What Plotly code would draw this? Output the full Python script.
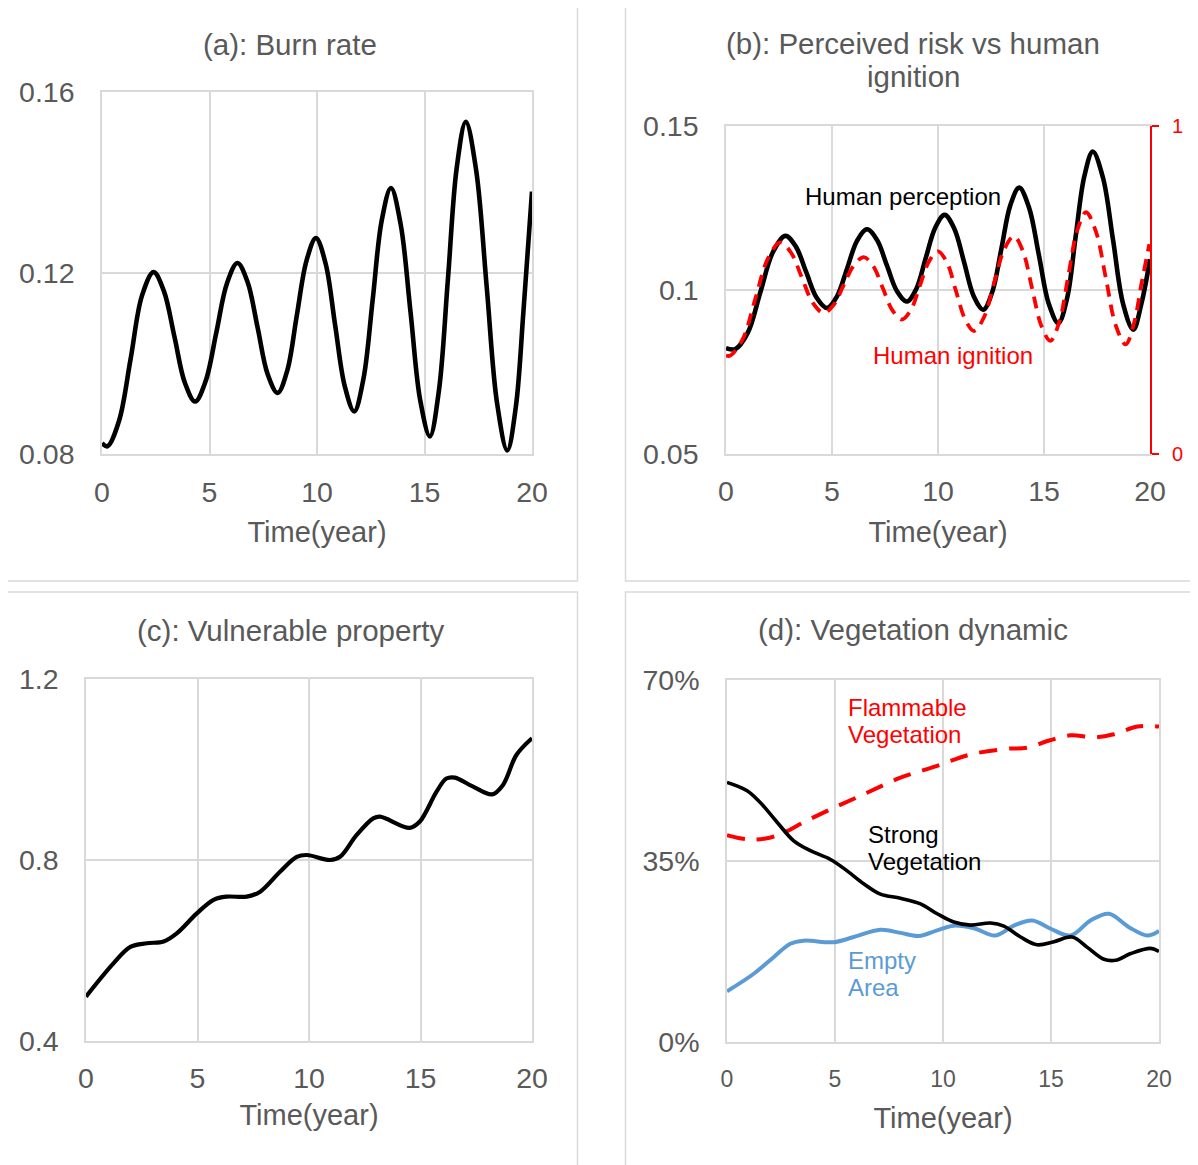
import plotly.graph_objects as go

# ---------------- data ----------------
# (a) Burn rate
a_t = [0, 0.25, 0.79, 1.33, 1.86, 2.4, 2.88, 3.37, 3.85, 4.33, 4.82, 5.32, 5.81, 6.3, 6.77, 7.24,
       7.70, 8.17, 8.62, 9.06, 9.51, 9.95, 10.4, 10.84, 11.29, 11.73, 12.16, 12.59, 13.01, 13.44,
       13.89, 14.35, 14.80, 15.25, 15.67, 16.09, 16.5, 16.92, 17.4, 17.89, 18.37, 18.85, 19.25,
       19.6, 20]
a_burn = [0.0824, 0.0817, 0.0873, 0.101, 0.115, 0.1202, 0.1160, 0.1059, 0.0958, 0.0916, 0.0961,
          0.1069, 0.1177, 0.1222, 0.1180, 0.1079, 0.0977, 0.0935, 0.0985, 0.1106, 0.1227, 0.1277,
          0.1221, 0.1086, 0.0950, 0.0894, 0.0966, 0.1141, 0.1316, 0.1388, 0.1308, 0.1114, 0.0919,
          0.0839, 0.0940, 0.1187, 0.1433, 0.1534, 0.1428, 0.1171, 0.0914, 0.0808, 0.0905, 0.1114,
          0.138]

# (b) Perceived risk (left axis) vs human ignition (right axis)
b_t_perc = [0, 0.44, 1.03, 1.62, 2.21, 2.80, 3.29, 3.78, 4.27, 4.76, 5.23, 5.71, 6.18, 6.65, 7.12,
            7.59, 8.06, 8.53, 8.98, 9.42, 9.87, 10.31, 10.77, 11.23, 11.68, 12.14, 12.56, 12.99,
            13.41, 13.83, 14.29, 14.76, 15.22, 15.68, 16.09, 16.49, 16.9, 17.30, 17.78, 18.26,
            18.73, 19.21, 19.6, 20]
b_perception = [0.0823, 0.082, 0.0870, 0.0993, 0.1115, 0.1165, 0.1133, 0.1055, 0.0977, 0.0945,
                0.0980, 0.1065, 0.1150, 0.1185, 0.1153, 0.1075, 0.0997, 0.0965, 0.1004, 0.1097,
                0.1190, 0.1229, 0.1187, 0.1085, 0.0982, 0.094, 0.0994, 0.1126, 0.1258, 0.1312,
                0.1252, 0.1106, 0.0959, 0.0899, 0.0975, 0.1161, 0.1346, 0.1422, 0.1343, 0.1151,
                0.0958, 0.0879, 0.096, 0.1094]
b_t_ign = [0, 0.2, 0.79, 1.38, 1.97, 2.56, 3.07, 3.58, 4.09, 4.6, 5.08, 5.55, 6.03, 6.5, 6.95, 7.4,
           7.85, 8.3, 8.73, 9.15, 9.58, 10.0, 10.43, 10.85, 11.28, 11.7, 12.17, 12.64, 13.11, 13.58,
           14.01, 14.44, 14.87, 15.3, 15.72, 16.14, 16.56, 16.98, 17.45, 17.92, 18.38, 18.85,
           19.25, 19.6, 19.97]
b_ignition = [0.30, 0.30, 0.350, 0.4725, 0.595, 0.645, 0.6136, 0.5375, 0.4614, 0.43, 0.4548, 0.515,
              0.5752, 0.600, 0.5723, 0.505, 0.4377, 0.41, 0.4404, 0.514, 0.5876, 0.618, 0.5825,
              0.4965, 0.4105, 0.375, 0.4172, 0.5195, 0.6218, 0.664, 0.6174, 0.5045, 0.3916, 0.345,
              0.4022, 0.541, 0.6798, 0.737, 0.678, 0.5355, 0.393, 0.334, 0.40, 0.52, 0.64]

# (c) Vulnerable property
c_t = [0, 1.24, 1.99, 2.73, 3.48, 4.07, 4.97, 5.72, 6.31, 7.21, 7.81, 8.70, 9.45, 9.9, 10.94,
       11.39, 12.13, 12.88, 13.18, 14.52, 14.97, 15.72, 16.16, 16.54, 17.36, 18.21, 18.7, 19.3, 20]
c_property = [0.498, 0.572, 0.608, 0.616, 0.620, 0.638, 0.682, 0.712, 0.719, 0.719, 0.730, 0.774,
              0.807, 0.811, 0.800, 0.807, 0.855, 0.892, 0.896, 0.871, 0.885, 0.951, 0.980, 0.982,
              0.962, 0.945, 0.966, 1.032, 1.069]

# (d) Vegetation dynamic
d_t_strong = [0, 0.93, 1.54, 2.32, 3.09, 3.86, 4.79, 5.56, 6.33, 7.10, 8.03, 8.96, 9.73, 10.50,
              11.27, 12.20, 12.82, 13.59, 14.36, 15.14, 15.98, 16.68, 17.45, 17.99, 18.69, 19.61, 20]
d_strong = [0.502, 0.486, 0.463, 0.425, 0.389, 0.370, 0.353, 0.331, 0.306, 0.286, 0.278, 0.267,
            0.248, 0.232, 0.226, 0.230, 0.224, 0.203, 0.188, 0.194, 0.203, 0.183, 0.160, 0.158,
            0.171, 0.181, 0.175]
d_t_empty = [0, 1.24, 2.16, 2.93, 3.55, 4.94, 5.87, 7.10, 8.03, 8.88, 9.73, 10.50, 11.43, 12.43,
             13.28, 14.13, 14.98, 15.91, 16.83, 17.68, 18.61, 19.46, 20]
d_empty = [0.098, 0.132, 0.164, 0.190, 0.196, 0.193, 0.203, 0.217, 0.211, 0.205, 0.216, 0.225,
           0.220, 0.206, 0.225, 0.235, 0.219, 0.206, 0.235, 0.248, 0.222, 0.206, 0.215]
d_t_flam = [0, 0.93, 1.85, 2.63, 3.55, 4.79, 6.33, 8.03, 9.73, 11.27, 12.97, 13.9, 14.83, 15.9,
            16.99, 17.91, 19.0, 20]
d_flammable = [0.400, 0.392, 0.394, 0.405, 0.425, 0.450, 0.479, 0.511, 0.534, 0.556, 0.567, 0.569,
               0.582, 0.593, 0.589, 0.595, 0.610, 0.610]

x_ticks = [0, 5, 10, 15, 20]

# ---------------- layout helpers ----------------
# the page body adds an 8px margin, so the figure is drawn 8px in from the window corner
OFF = 8
W, H = 1198 - OFF, 1165 - OFF
FONT = "Liberation Sans, Arial, sans-serif"
GREY_TXT = "#595959"
GRID = "#d9d9d9"
RED = "#FF0000"
BLUE = "#5B9BD5"


def X(px):
    return (px - OFF) / W


def Y(py):
    return 1 - (py - OFF) / H


def dx(x0, x1):
    return [X(x0), X(x1)]


def dy(ytop, ybot):
    return [Y(ybot), Y(ytop)]


fig = go.Figure()

fig.add_trace(go.Scatter(x=a_t, y=a_burn, mode="lines", line=dict(color="black", width=4.6, shape="spline"),
                         xaxis="x", yaxis="y", showlegend=False))
fig.add_trace(go.Scatter(x=b_t_ign, y=b_ignition, mode="lines",
                         line=dict(color=RED, width=3.8, shape="spline", dash="12px,8px"),
                         xaxis="x2", yaxis="y5", showlegend=False))
fig.add_trace(go.Scatter(x=b_t_perc, y=b_perception, mode="lines",
                         line=dict(color="black", width=4.6, shape="spline"),
                         xaxis="x2", yaxis="y2", showlegend=False))
fig.add_trace(go.Scatter(x=c_t, y=c_property, mode="lines", line=dict(color="black", width=4.2, shape="spline"),
                         xaxis="x3", yaxis="y3", showlegend=False))
fig.add_trace(go.Scatter(x=d_t_flam, y=d_flammable, mode="lines",
                         line=dict(color=RED, width=4, shape="spline", dash="18px,12px"),
                         xaxis="x4", yaxis="y4", showlegend=False))
fig.add_trace(go.Scatter(x=d_t_empty, y=d_empty, mode="lines",
                         line=dict(color=BLUE, width=4, shape="spline"),
                         xaxis="x4", yaxis="y4", showlegend=False))
fig.add_trace(go.Scatter(x=d_t_strong, y=d_strong, mode="lines",
                         line=dict(color="black", width=3.6, shape="spline"),
                         xaxis="x4", yaxis="y4", showlegend=False))


def xax(domain, anchor, tsize=28.5, tstand=12, title_stand=15):
    return dict(domain=domain, anchor=anchor, range=[0, 20], tickvals=x_ticks,
                ticktext=[str(v) for v in x_ticks], showgrid=True, gridcolor=GRID, gridwidth=1.5,
                zeroline=False, showline=True, mirror=True, linecolor=GRID, linewidth=1.5,
                ticks="", ticklabelstandoff=tstand,
                tickfont=dict(family=FONT, size=tsize, color=GREY_TXT),
                title=dict(text="Time(year)", font=dict(family=FONT, size=29, color=GREY_TXT),
                           standoff=title_stand),
                automargin=False, fixedrange=True)


def yax(domain, anchor, rng, vals, texts):
    return dict(domain=domain, anchor=anchor, range=rng, tickvals=vals, ticktext=texts,
                showgrid=True, gridcolor=GRID, gridwidth=1.5, zeroline=False,
                showline=True, mirror=True, linecolor=GRID, linewidth=1.5,
                ticks="", ticklabelstandoff=20,
                tickfont=dict(family=FONT, size=28.5, color=GREY_TXT),
                automargin=False, fixedrange=True)


fig.update_layout(
    width=W, height=H, margin=dict(l=0, r=0, t=0, b=0),
    template="none", paper_bgcolor="white", plot_bgcolor="white",
    font=dict(family=FONT, color=GREY_TXT),
    xaxis=xax(dx(102, 532), "y", tstand=12, title_stand=15),
    yaxis=yax(dy(92, 454), "x", [0.08, 0.16], [0.08, 0.12, 0.16], ["0.08", "0.12", "0.16"]),
    xaxis2=xax(dx(726, 1150), "y2", tstand=11, title_stand=16),
    yaxis2=yax(dy(126, 454), "x2", [0.05, 0.15], [0.05, 0.1, 0.15], ["0.05", "0.1", "0.15"]),
    yaxis5=dict(overlaying="y2", side="right", anchor="x2", range=[0, 1], tickvals=[0, 1],
                ticktext=["0", "1"], showgrid=False, zeroline=False, showline=True,
                linecolor=RED, linewidth=2, ticks="outside", ticklen=7, tickwidth=2, tickcolor=RED,
                ticklabelstandoff=9, tickfont=dict(family=FONT, size=20, color=RED),
                automargin=False, fixedrange=True),
    xaxis3=xax(dx(86, 532), "y3", tstand=11, title_stand=12),
    yaxis3=yax(dy(679, 1041), "x3", [0.4, 1.2], [0.4, 0.8, 1.2], ["0.4", "0.8", "1.2"]),
    xaxis4=xax(dx(727, 1159), "y4", tsize=23, tstand=16, title_stand=16),
    yaxis4=yax(dy(680, 1042), "x4", [0, 0.7], [0, 0.35, 0.7], ["0%", "35%", "70%"]),
)

# panel borders
for (x0, y0, x1, y1) in [(2.5, 5, 577.5, 581), (625.5, 5, 1200, 581),
                         (2.5, 592, 577.5, 1167), (625.5, 592, 1200, 1167)]:
    fig.add_shape(type="rect", xref="paper", yref="paper", x0=X(x0), x1=X(x1),
                  y0=Y(y1), y1=Y(y0), line=dict(color=GRID, width=1.5),
                  fillcolor="rgba(0,0,0,0)", layer="below")


def ann(text, x, y, size, color, xanchor="center"):
    fig.add_annotation(text=text, x=X(x), y=Y(y), xref="paper", yref="paper",
                       xanchor=xanchor, yanchor="middle", showarrow=False,
                       font=dict(family=FONT, size=size, color=color))


# titles
ann("(a): Burn rate", 290, 44, 29.5, GREY_TXT)
ann("(b): Perceived risk vs human", 913, 43, 29.5, GREY_TXT)
ann("ignition", 913, 76, 29.5, GREY_TXT)
ann("(c): Vulnerable property", 290, 630, 29.5, GREY_TXT)
ann("(d): Vegetation dynamic", 913, 629, 29.5, GREY_TXT)

# series labels
ann("Human perception", 903, 196, 24, "black")
ann("Human ignition", 953, 356, 24, RED)
ann("Flammable", 846, 707, 24, RED, "left")
ann("Vegetation", 846, 734, 24, RED, "left")
ann("Strong", 866, 834, 24, "black", "left")
ann("Vegetation", 866, 861, 24, "black", "left")
ann("Empty", 846, 960, 24, BLUE, "left")
ann("Area", 846, 987, 24, BLUE, "left")

fig.write_html("out.html")
